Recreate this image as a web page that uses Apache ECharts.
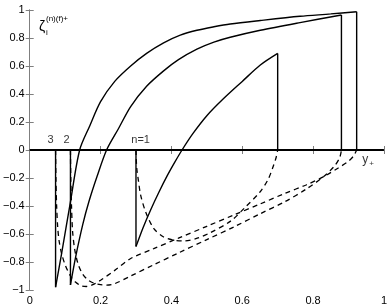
<!DOCTYPE html>
<html><head><meta charset="utf-8">
<script src="https://cdn.jsdelivr.net/npm/echarts@6/dist/echarts.min.js"></script>
<style>html,body{margin:0;padding:0;background:#fff}#c{width:390px;height:308px}</style>
</head><body><div id="c"></div>
<script>
// axis ranges / ticks
const xRange = [0, 1];
const yRange = [-1, 1];
const tickStep = 0.2;

// solid curves (x, zeta) — each one drops vertically to 0 at both ends
const solidN1 = [[0.3,-0.69],[0.32,-0.555],[0.341,-0.43],[0.365,-0.3],[0.389,-0.18],[0.41,-0.085],[0.43,0],[0.46,0.115],[0.5,0.245],[0.543,0.357],[0.6,0.49],[0.651,0.607],[0.7,0.69]];
const solidN2 = [[0.115,-0.964],[0.13,-0.76],[0.15,-0.53],[0.167,-0.37],[0.19,-0.19],[0.217,0],[0.25,0.15],[0.285,0.31],[0.33,0.455],[0.378,0.565],[0.42,0.645],[0.472,0.72],[0.52,0.77],[0.566,0.805],[0.651,0.855],[0.763,0.91],[0.88,0.964]];
const solidN3 = [[0.073,-0.98],[0.09,-0.74],[0.115,-0.37],[0.141,0],[0.17,0.175],[0.2,0.345],[0.24,0.49],[0.285,0.6],[0.33,0.69],[0.378,0.765],[0.425,0.82],[0.472,0.855],[0.52,0.88],[0.566,0.9],[0.651,0.925],[0.763,0.955],[0.85,0.972],[0.923,0.988]];

// dashed curves
const dashedN1 = [[0.3,0],[0.301,-0.08],[0.303,-0.15],[0.307,-0.22],[0.313,-0.32],[0.327,-0.44],[0.35,-0.56],[0.377,-0.62],[0.405,-0.643],[0.434,-0.65],[0.473,-0.63],[0.51,-0.59],[0.566,-0.51],[0.608,-0.41],[0.65,-0.3],[0.673,-0.21],[0.687,-0.12],[0.696,-0.05],[0.7,0]];
const dashedN2 = [[0.115,0],[0.116,-0.2],[0.118,-0.4],[0.121,-0.58],[0.127,-0.71],[0.136,-0.81],[0.148,-0.88],[0.163,-0.925],[0.18,-0.95],[0.2,-0.962],[0.217,-0.965],[0.24,-0.955],[0.285,-0.9],[0.35,-0.82],[0.42,-0.735],[0.5,-0.64],[0.58,-0.545],[0.651,-0.455],[0.72,-0.37],[0.78,-0.28],[0.83,-0.19],[0.86,-0.115],[0.875,-0.055],[0.88,0]];
const dashedN3 = [[0.073,0],[0.074,-0.2],[0.076,-0.4],[0.079,-0.55],[0.083,-0.65],[0.09,-0.74],[0.1,-0.82],[0.115,-0.9],[0.13,-0.945],[0.145,-0.97],[0.16,-0.975],[0.18,-0.96],[0.2,-0.93],[0.24,-0.86],[0.285,-0.775],[0.35,-0.705],[0.42,-0.63],[0.5,-0.545],[0.58,-0.46],[0.651,-0.385],[0.72,-0.31],[0.78,-0.25],[0.83,-0.19],[0.87,-0.13],[0.9,-0.08],[0.915,-0.04],[0.923,0]];

// zero line
const zeroLine = [[0,0],[1,0]];

// annotation texts and anchor points (data coords)
const annoTexts = ['3','2','n=1'];
const annoAt = [[0.059,0.075],[0.104,0.075],[0.313,0.075]];
const yPlusAt = [0.955,-0.07];

const FONT = 'Liberation Sans, Arial, Helvetica, sans-serif';
const fmt = v => (Math.round(v*10)/10).toString().replace('-', '\u2212');

const chart = echarts.init(document.getElementById('c'), null, {renderer:'canvas'});
const axisCommon = {
  type:'value', min:xRange[0], max:xRange[1], interval:tickStep,
  axisLine:{show:true, lineStyle:{color:'#7f7f7f', width:1}},
  axisTick:{show:true, inside:true, length:4, lineStyle:{color:'#7f7f7f'}},
  splitLine:{show:false}
};
const solidStyle = {color:'#000', width:1.4, type:'solid'};
const dashStyle = {color:'#000', width:1.3, type:[5,4]};
function line(name, data, style, smooth){
  return {name, type:'line', data, symbol:'none', showSymbol:false, smooth:smooth||false, lineStyle:style, silent:true, animation:false, z:3};
}
function drops(curve){
  const a = curve[0], b = curve[curve.length-1];
  return [[[a[0],0],a],[b,[b[0],0]]];
}
const dropSeries = [];
[solidN1, solidN2, solidN3].forEach((c,i)=>{
  drops(c).forEach((seg,j)=>dropSeries.push(line('drop'+i+j, seg, solidStyle)));
});
chart.setOption({
  animation:false,
  grid:{left:29, right:6, top:10, bottom:18, containLabel:false},
  xAxis:[
    Object.assign({}, axisCommon, {position:'bottom', axisLabel:{show:true, color:'#000', fontFamily:FONT, fontSize:11, margin:5, formatter:fmt}}),
    Object.assign({}, axisCommon, {position:'top', axisLabel:{show:false}})
  ],
  yAxis:[
    Object.assign({}, axisCommon, {min:yRange[0], max:yRange[1], position:'left', axisLabel:{show:true, color:'#000', fontFamily:FONT, fontSize:11, margin:5, formatter:fmt}}),
    Object.assign({}, axisCommon, {min:yRange[0], max:yRange[1], position:'right', axisLabel:{show:false}})
  ],
  series:[
    line('zero', zeroLine, {color:'#000', width:2}),
    line('s1', solidN1, solidStyle, 0.3),
    line('s2', solidN2, solidStyle, 0.3),
    line('s3', solidN3, solidStyle, 0.3),
    ...dropSeries,
    line('d1', dashedN1, dashStyle, 0.3),
    line('d2', dashedN2, dashStyle, 0.3),
    line('d3', dashedN3, dashStyle, 0.3),
    {type:'scatter', symbolSize:0, silent:true, z:5,
     data: annoAt.map((p,i)=>({value:p, name:annoTexts[i]})),
     label:{show:true, position:'inside', formatter:p=>p.name, color:'#000', fontFamily:FONT, fontSize:11}},
    {type:'scatter', symbolSize:0, silent:true, z:5,
     data:[{value:yPlusAt}],
     label:{show:true, position:'inside', formatter:'{y|y}{p|+}', rich:{
       y:{fontFamily:FONT, fontSize:12, color:'#000'},
       p:{fontFamily:FONT, fontSize:8, color:'#000', padding:[8,0,0,1]}
     }}}
  ],
  graphic:[
    {type:'text', left:39, top:20, style:{text:'\u03B6', font:'14px '+FONT, fill:'#000'}},
    {type:'text', left:46, top:15, style:{text:'(n)(f)+', font:'8px '+FONT, fill:'#000'}},
    {type:'text', left:46, top:29, style:{text:'i', font:'8px '+FONT, fill:'#000'}}
  ]
});
</script></body></html>
